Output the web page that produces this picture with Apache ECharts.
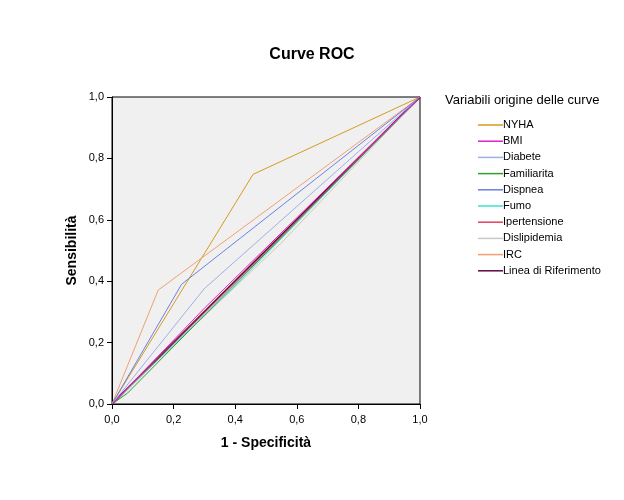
<!DOCTYPE html>
<html>
<head>
<meta charset="utf-8">
<script src="https://cdn.jsdelivr.net/npm/echarts@6/dist/echarts.min.js"></script>
<style>html,body{margin:0;padding:0;background:#fff}#c{width:624px;height:500px}</style>
</head>
<body>
<div id="c"></div>
<script>
const seriesNames = ['NYHA','BMI','Diabete','Familiarita','Dispnea','Fumo','Ipertensione','Dislipidemia','IRC','Linea di Riferimento'];
const seriesColors = ['#D69A22','#E020D0','#A0AEE6','#2E9E2E','#6B80E6','#3EE0CC','#E0405E','#C8C8C8','#F0A070','#5A0A40'];
// 1 - Specificità (x) and Sensibilità (y) for each curve
const nyhaX = [0, 0.458, 1];          const nyhaY = [0, 0.748, 1];
const bmiX = [0, 0.30, 1];            const bmiY = [0, 0.312, 1];
const diabeteX = [0, 0.299, 1];       const diabeteY = [0, 0.375, 1];
const familiaritaX = [0, 0.05, 1];    const familiaritaY = [0, 0.035, 1];
const dispneaX = [0, 0.226, 1];       const dispneaY = [0, 0.390, 1];
const fumoX = [0, 0.40, 1];           const fumoY = [0, 0.385, 1];
const ipertensioneX = [0, 0.50, 1];   const ipertensioneY = [0, 0.497, 1];
const dislipidemiaX = [0, 0.55, 1];   const dislipidemiaY = [0, 0.525, 1];
const ircX = [0, 0.150, 1];           const ircY = [0, 0.371, 1];
const rifX = [0, 1];                  const rifY = [0, 1];

const allX = [nyhaX, bmiX, diabeteX, familiaritaX, dispneaX, fumoX, ipertensioneX, dislipidemiaX, ircX, rifX];
const allY = [nyhaY, bmiY, diabeteY, familiaritaY, dispneaY, fumoY, ipertensioneY, dislipidemiaY, ircY, rifY];

const font = 'Liberation Sans, Arial, sans-serif';
const fmt = v => v.toFixed(1).replace('.', ',');

const drawOrder = [9, 0, 8, 4, 2, 7, 5, 3, 6, 1];
const series = drawOrder.map(i => ({
  name: seriesNames[i],
  type: 'line',
  data: allX[i].map((x, k) => [x, allY[i][k]]),
  showSymbol: false,
  symbol: 'none',
  silent: true,
  animation: false,
  color: seriesColors[i],
  lineStyle: { width: i === 9 ? 2 : 1, color: seriesColors[i] },
  z: 2
}));

const chart = echarts.init(document.getElementById('c'), null, { renderer: 'canvas' });
chart.setOption({
  backgroundColor: '#fff',
  animation: false,
  title: [
    { text: 'Curve ROC', left: 'center', top: 42, textStyle: { fontFamily: font, fontSize: 16, fontWeight: 'bold', color: '#000' } },
    { text: 'Variabili origine delle curve', left: 440, top: 89, textStyle: { fontFamily: font, fontSize: 13, fontWeight: 'normal', color: '#000' } }
  ],
  legend: {
    data: seriesNames,
    orient: 'vertical',
    left: 478,
    top: 118,
    icon: 'rect',
    itemWidth: 25,
    itemHeight: 1.5,
    itemGap: 2.2,
    padding: 0,
    selectedMode: false,
    textStyle: { fontFamily: font, fontSize: 11, color: '#000', padding: [0, 0, 0, -5], lineHeight: 14 }
  },
  grid: {
    left: 112, right: 204, top: 97, bottom: 96,
    show: true, backgroundColor: '#F0F0F0', borderColor: '#000', borderWidth: 1
  },
  xAxis: {
    type: 'value', min: 0, max: 1, interval: 0.2,
    name: '1 - Specificità', nameLocation: 'middle', nameGap: 32,
    nameTextStyle: { fontFamily: font, fontSize: 14, fontWeight: 'bold', color: '#000' },
    axisLine: { show: true, lineStyle: { color: '#000', width: 1 } },
    axisTick: { show: true, length: 5, lineStyle: { color: '#000' } },
    axisLabel: { fontFamily: font, fontSize: 11, color: '#000', margin: 10, formatter: v => fmt(v) },
    splitLine: { show: false }
  },
  yAxis: {
    type: 'value', min: 0, max: 1, interval: 0.2,
    name: 'Sensibilità', nameLocation: 'middle', nameGap: 33, nameRotate: 90,
    nameTextStyle: { fontFamily: font, fontSize: 14, fontWeight: 'bold', color: '#000' },
    axisLine: { show: true, lineStyle: { color: '#000', width: 1 } },
    axisTick: { show: true, length: 5, lineStyle: { color: '#000' } },
    axisLabel: { fontFamily: font, fontSize: 11, color: '#000', margin: 8, formatter: v => fmt(v) },
    splitLine: { show: false }
  },
  series: series
});
</script>
</body>
</html>
